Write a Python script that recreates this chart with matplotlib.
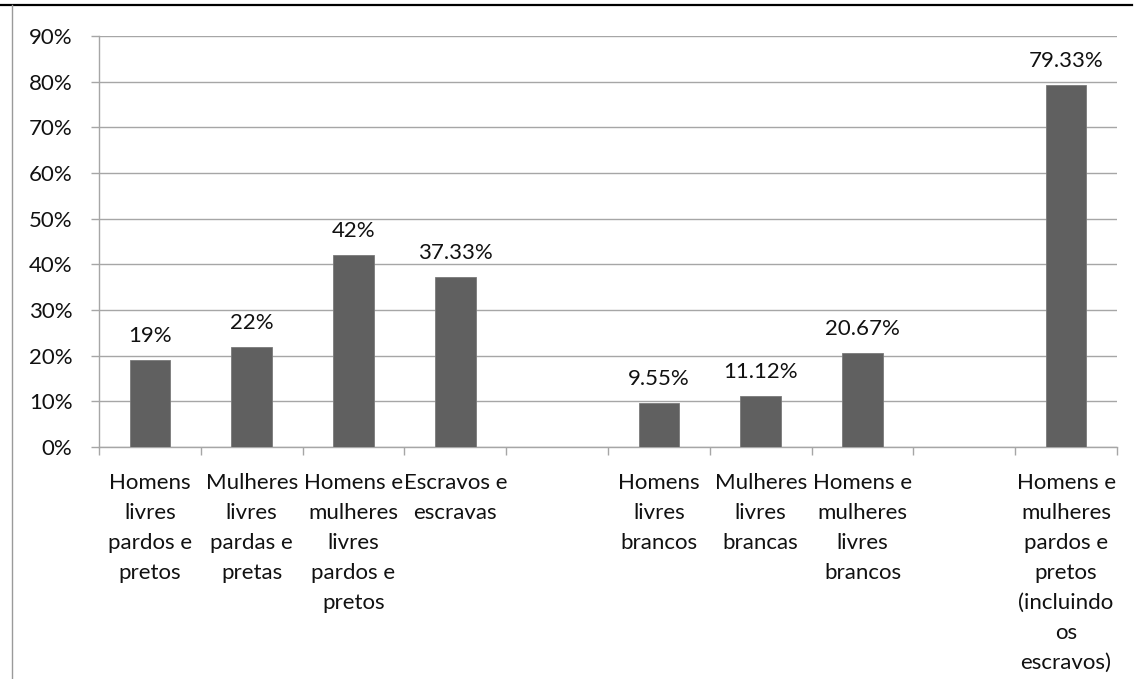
import numpy as np
import matplotlib
matplotlib.use("Agg")
import matplotlib.pyplot as plt
from matplotlib.lines import Line2D
from matplotlib.ticker import FixedLocator, PercentFormatter

plt.rcParams['font.family'] = ['Lato', 'DejaVu Sans']

categories = [
    "Homens\nlivres\npardos e\npretos",
    "Mulheres\nlivres\npardas e\npretas",
    "Homens e\nmulheres\nlivres\npardos e\npretos",
    "Escravos e\nescravas",
    "",
    "Homens\nlivres\nbrancos",
    "Mulheres\nlivres\nbrancas",
    "Homens e\nmulheres\nlivres\nbrancos",
    "",
    "Homens e\nmulheres\npardos e\npretos\n(incluindo\nos\nescravos)",
]
values = [19, 22, 42, 37.33, np.nan, 9.55, 11.12, 20.67, np.nan, 79.33]
value_labels = ["19%", "22%", "42%", "37.33%", "", "9.55%", "11.12%", "20.67%", "", "79.33%"]
y_ticks = [0, 10, 20, 30, 40, 50, 60, 70, 80, 90]

grid_color = "#a6a6a6"
bar_color = "#606060"
fs = 16

fig = plt.figure(figsize=(11.34, 6.79), dpi=100)
ax = fig.add_axes([99 / 1134, (679 - 447) / 679, (1117 - 99) / 1134, (447 - 36) / 679])

x = np.arange(len(categories))
bars = ax.bar(x, values, width=0.4, color=bar_color, edgecolor="#7a7a7a", linewidth=0.6, zorder=3)

for xi, v, lab in zip(x, values, value_labels):
    if np.isnan(v):
        continue
    ax.annotate(lab, (xi, v), xytext=(0, 10), textcoords="offset points",
                ha="center", va="bottom", fontsize=fs, color="#111111")

ax.set_xlim(-0.5, len(categories) - 0.5)
ax.set_ylim(0, 90)
ax.yaxis.set_major_locator(FixedLocator(y_ticks))
ax.yaxis.set_major_formatter(PercentFormatter(decimals=0))
ax.grid(axis="y", color=grid_color, linewidth=1.0, zorder=0)
ax.set_axisbelow(True)

ax.set_xticks(x)
ax.set_xticklabels(categories, fontsize=fs, linespacing=1.62, color="#111111")
ax.tick_params(axis="x", which="major", length=0, pad=19)
ax.set_xticks(np.arange(-0.5, len(categories)), minor=True)
ax.tick_params(axis="x", which="minor", length=6, width=1, color=grid_color)
ax.tick_params(axis="y", length=6, width=1, color=grid_color, pad=13, labelsize=fs, labelcolor="#111111")

for side in ("top", "right"):
    ax.spines[side].set_visible(False)
for side in ("left", "bottom"):
    ax.spines[side].set_color(grid_color)
    ax.spines[side].set_linewidth(1.0)

# frame lines around the chart area
fig.add_artist(Line2D([0, 1132 / 1134], [1 - 5 / 679, 1 - 5 / 679], color="black", linewidth=1.6,
                      transform=fig.transFigure))
fig.add_artist(Line2D([12 / 1134, 12 / 1134], [0, 1 - 5 / 679], color="#9a9a9a", linewidth=1.0,
                      transform=fig.transFigure))

fig.savefig("out.png", dpi=100)
